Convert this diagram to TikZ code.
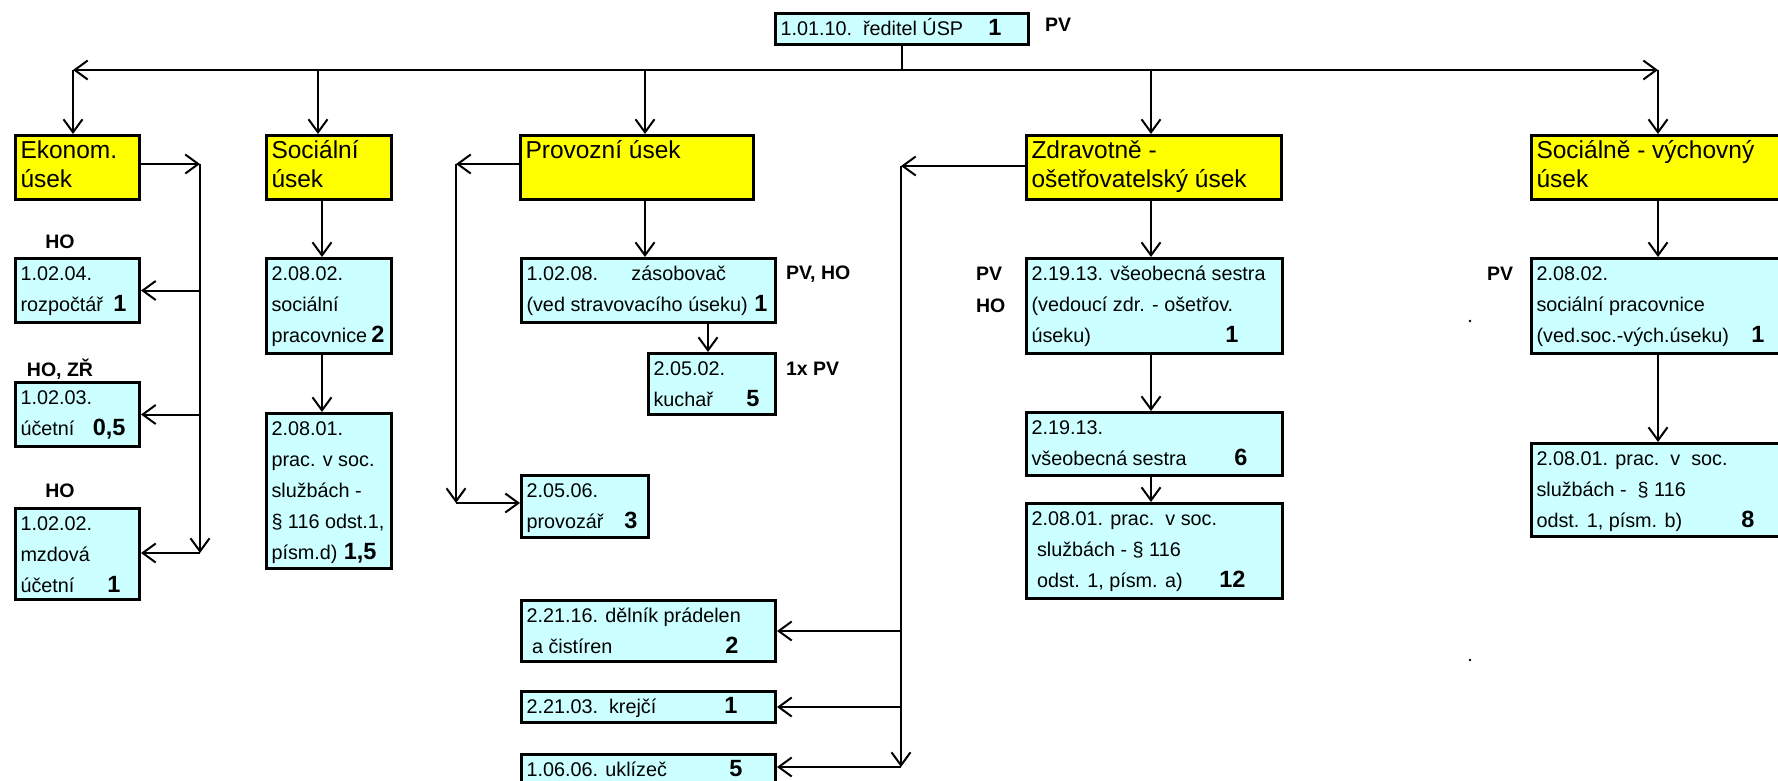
\documentclass[tikz,border=0pt]{standalone}
\usepackage{fontspec}
\setmainfont{Liberation Sans}
\usetikzlibrary{arrows.meta}
\definecolor{cyanc}{HTML}{CCFFFF}
\definecolor{yel}{HTML}{FFFF00}
\newcommand\nm[1]{{\fontsize{23.5}{31}\selectfont\bfseries #1}}
\newcommand\bc[3]{\parbox[c][#2pt][t]{\dimexpr#1pt-10pt\relax}{\fontsize{19.8}{31}\selectfont\raggedright\vspace*{0.5pt}#3}}
\newcommand\hc[3]{\parbox[c][#2pt][t]{\dimexpr#1pt-10pt\relax}{\fontsize{24.5}{29}\selectfont\raggedright\vspace*{3pt}#3}}
\begin{document}
\begin{tikzpicture}[x=1pt,y=-1pt,line width=2pt,
  arr/.style={-{Straight Barb[length=13pt,width=19pt,line width=2pt]}},
  barr/.style={{Straight Barb[length=13pt,width=19pt,line width=2pt]}-{Straight Barb[length=13pt,width=19pt,line width=2pt]}},
  cb/.style={draw,line width=3pt,fill=cyanc,inner xsep=5pt,inner ysep=0pt,anchor=north west},
  hb/.style={cb,fill=yel},
  lab/.style={font=\fontsize{19.5}{21}\selectfont\bfseries,inner sep=0pt}]
\useasboundingbox (0,0) rectangle (1778,780);
\fill[white] (0,0) rectangle (1778,780);
\clip (0,0) rectangle (1778,780);

% director
\node[cb] (dir) at (774,12) {\bc{253}{31}{\strut 1.01.10.\ \ ředitel ÚSP\hfill\nm{1}\hspace*{22pt}}};
\node[lab,anchor=west] (lpv) at (1044,25) {PV};

% headers
\node[hb] (ekon) at (14,134) {\hc{124}{64}{\strut Ekonom.\\\strut úsek}};
\node[hb] (soc) at (265,134) {\hc{125}{64}{\strut Sociální\\\strut úsek}};
\node[hb] (prov) at (519,134) {\hc{233}{64}{\strut Provozní úsek}};
\node[hb] (zdr) at (1025,134) {\hc{255}{64}{\strut Zdravotně -\\\strut ošetřovatelský úsek}};
\node[hb] (svy) at (1530,134) {\hc{260}{64}{\strut Sociálně - výchovný\\\strut úsek}};

% ekonom
\node[cb] (b1) at (14,257) {\bc{124}{64}{\strut 1.02.04.\\\strut rozpočtář\hfill\nm{1}\hspace*{8pt}}};
\node[cb] (b2) at (14,381) {\bc{124}{64}{\strut 1.02.03.\\\strut účetní\hfill\nm{0,5}\hspace*{9pt}}};
\node[cb] (b3) at (14,507) {\bc{124}{91}{\strut 1.02.02.\\\strut mzdová\\\strut účetní\hfill\nm{1}\hspace*{14pt}}};
\node[lab] (lb1) at (60,242) {HO};
\node[lab] (lb2) at (60,369) {HO, ZŘ};
\node[lab] (lb3) at (60,491) {HO};

% social
\node[cb] (s1) at (265,257) {\bc{125}{95}{\strut 2.08.02.\\\strut sociální\\\strut pracovnice\nobreak\hfill\nm{2}\hspace*{2pt}}};
\node[cb] (s2) at (265,412) {\bc{125}{155}{\strut 2.08.01.\\\strut prac. v soc.\\\strut službách -\\\strut § 116 odst.1,\\\strut písm.d)\hfill\nm{1,5}\hspace*{10pt}}};

% provoz
\node[cb] (p1) at (520,257) {\bc{254}{64}{\strut\makebox[105pt][l]{1.02.08.}zásobovač\\\strut (ved stravovacího úseku)\nobreak\hfill\nm{1}\hspace*{3pt}}};
\node[cb] (p2) at (647,352) {\bc{127}{61}{\strut 2.05.02.\\\strut kuchař\hfill\nm{5}\hspace*{11pt}}};
\node[cb] (p3) at (520,474) {\bc{127}{62}{\strut 2.05.06.\\\strut provozář\hfill\nm{3}\hspace*{6pt}}};
\node[cb] (p4) at (520,599) {\bc{254}{61}{\strut 2.21.16. dělník prádelen\\\strut\ a čistíren\hfill\nm{2}\hspace*{32pt}}};
\node[cb] (p5) at (520,690) {\bc{254}{31}{\strut 2.21.03.\ \ krejčí\hfill\nm{1}\hspace*{33pt}}};
\node[cb] (p6) at (520,753) {\bc{254}{30}{\strut 1.06.06. uklízeč\hfill\nm{5}\hspace*{28pt}}};
\node[lab,anchor=west] (lp1) at (785,274) {PV, HO};
\node[lab,anchor=west] (lp2) at (785,369) {1x PV};

% zdrav
\node[cb] (z1) at (1025,257) {\bc{256}{95}{\strut 2.19.13. všeobecná sestra\\\strut (vedoucí zdr. - ošetřov.\\\strut úseku)\hfill\nm{1}\hspace*{39pt}}};
\node[cb] (z2) at (1025,411) {\bc{256}{63}{\strut 2.19.13.\\\strut všeobecná sestra\hfill\nm{6}\hspace*{30pt}}};
\node[cb] (z3) at (1025,502) {\bc{256}{95}{\strut 2.08.01. prac.\ \ v soc.\\\strut\ službách - § 116\\\strut\ odst. 1, písm. a)\hfill\nm{12}\hspace*{32pt}}};
\node[lab,anchor=west] (lz1) at (975,274) {PV};
\node[lab,anchor=west] (lz2) at (975,306) {HO};

% soc-vych
\node[cb] (v1) at (1530,257) {\bc{260}{95}{\strut 2.08.02.\\\strut sociální pracovnice\\\strut (ved.soc.-vých.úseku)\hfill\nm{1}\hspace*{22pt}}};
\node[cb] (v2) at (1530,442) {\bc{260}{93}{\strut 2.08.01. prac.\ \ v\ \ soc.\\\strut službách -\ \ § 116\\\strut odst. 1, písm. b)\hfill\nm{8}\hspace*{32pt}}};
\node[lab,anchor=west] (lv1) at (1486,274) {PV};

% top distribution
\coordinate (jl) at (73,70);
\coordinate (jr) at (1658,70);
\coordinate (t2) at (318,70);
\coordinate (t3) at (645,70);
\coordinate (t4) at (1151,70);
\draw (dir.south) -- (dir.south |- jl);
\draw[barr] (jl) -- (jr);
\draw[arr] (jl) -- (jl |- ekon.north);
\draw[arr] (t2) -- (t2 |- soc.north);
\draw[arr] (t3) -- (t3 |- prov.north);
\draw[arr] (t4) -- (t4 |- zdr.north);
\draw[arr] (jr) -- (jr |- svy.north);

% ekonom bus
\coordinate (ea) at (200,164);
\coordinate (eb) at (200,553);
\draw[arr] (ekon.east |- ea) -- (ea);
\draw[arr] (ea) -- (eb);
\draw[arr] (ea |- b1.east) -- (b1.east);
\draw[arr] (ea |- b2.east) -- (b2.east);
\draw[arr] (eb) -- (b3.east |- eb);

% social chain
\coordinate (t6) at (322,0);
\draw[arr] (t6 |- soc.south) -- (t6 |- s1.north);
\draw[arr] (t6 |- s1.south) -- (t6 |- s2.north);

% provoz bus
\coordinate (pa) at (456,164);
\coordinate (pb) at (456,503);
\draw[arr] (prov.west |- pa) -- (pa);
\draw[arr] (pa) -- (pb);
\draw[arr] (pb) -- (p3.west |- pb);
\draw[arr] (t3 |- prov.south) -- (t3 |- p1.north);
\coordinate (t5) at (708,0);
\draw[arr] (t5 |- p1.south) -- (t5 |- p2.north);

% zdrav bus
\coordinate (za) at (901,166);
\coordinate (zb) at (901,767);
\draw[arr] (zdr.west |- za) -- (za);
\draw[arr] (za) -- (zb);
\draw[arr] (za |- p4.east) -- (p4.east);
\draw[arr] (za |- p5.east) -- (p5.east);
\draw[arr] (zb) -- (p6.east |- zb);
\draw[arr] (t4 |- zdr.south) -- (t4 |- z1.north);
\draw[arr] (t4 |- z1.south) -- (t4 |- z2.north);
\draw[arr] (t4 |- z2.south) -- (t4 |- z3.north);

% soc-vych chain
\draw[arr] (jr |- svy.south) -- (jr |- v1.north);
\draw[arr] (jr |- v1.south) -- (jr |- v2.north);

% specks
\fill (1470,321) circle (1.3pt);
\fill (1470,660) circle (1.3pt);
\end{tikzpicture}
\end{document}
